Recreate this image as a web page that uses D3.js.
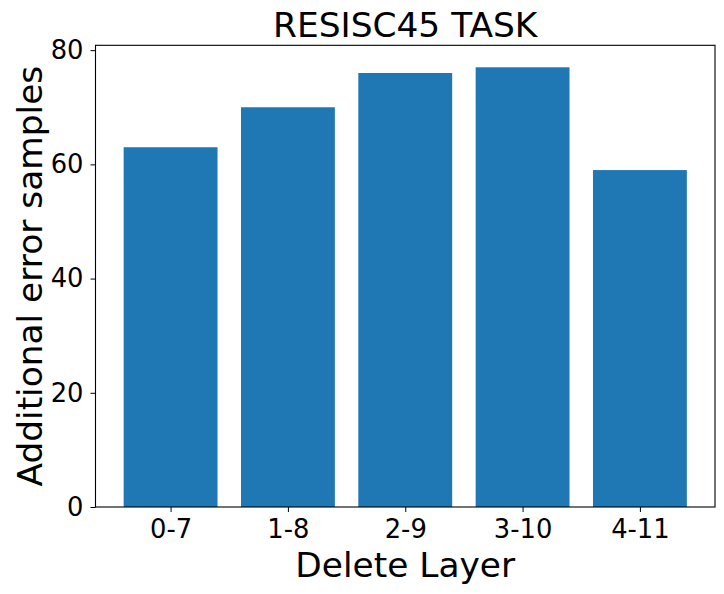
<html>
<head>
<script src="https://d3js.org/d3.v7.min.js"></script>
<style>
body{margin:0;background:#fff}
text{font-family:"DejaVu Sans",sans-serif}
</style>
</head>
<body>
<script>
var capas=["0-7","1-8","2-9","3-10","4-11"]
var errores=[63,70,76,77,59]
var ticksY=[0,20,40,60,80]

var izq=95.5, der=715, arriba=45.3, abajo=507

var svg=d3.select("body").append("svg")
  .attr("width",724)
  .attr("height",594)

// escala x como matplotlib: posiciones 0..4 con margen
var escalaX=d3.scaleLinear()
  .domain([-0.64,4.64])
  .range([izq,der])

var escalaY=d3.scaleLinear()
  .domain([0,d3.max(errores)*1.05])
  .range([abajo,arriba])

var anchoBarra=escalaX(0.8)-escalaX(0)

svg.selectAll("rect.barra")
  .data(errores)
  .enter()
  .append("rect")
  .attr("class","barra")
  .attr("x",(d,i)=>escalaX(i)-anchoBarra/2)
  .attr("y",d=>escalaY(d))
  .attr("width",anchoBarra)
  .attr("height",d=>abajo-escalaY(d))
  .attr("fill","#1f77b4")

// ejes
var ejeX=svg.append("g")
  .attr("transform","translate(0,"+abajo+")")
  .call(d3.axisBottom(escalaX).tickValues(d3.range(capas.length)).tickFormat(i=>capas[i]).tickSize(5).tickPadding(8))
ejeX.select(".domain").remove()
ejeX.selectAll("text").attr("font-size",25.8).attr("fill","#000").attr("font-family","DejaVu Sans")
ejeX.selectAll("line").attr("stroke","#000").attr("stroke-width",1)

var ejeY=svg.append("g")
  .attr("transform","translate("+izq+",0)")
  .call(d3.axisLeft(escalaY).tickValues(ticksY).tickSize(5).tickPadding(7))
ejeY.select(".domain").remove()
ejeY.selectAll("text").attr("font-size",25.8).attr("fill","#000").attr("font-family","DejaVu Sans")
ejeY.selectAll("line").attr("stroke","#000").attr("stroke-width",1)

// marco
svg.append("rect")
  .attr("x",izq).attr("y",arriba)
  .attr("width",der-izq).attr("height",abajo-arriba)
  .attr("fill","none").attr("stroke","#000").attr("stroke-width",1.1)

svg.append("text")
  .attr("x",(izq+der)/2).attr("y",37)
  .attr("text-anchor","middle")
  .attr("font-size",34.4)
  .text("RESISC45 TASK")

svg.append("text")
  .attr("x",(izq+der)/2).attr("y",577)
  .attr("text-anchor","middle")
  .attr("font-size",34.4)
  .text("Delete Layer")

svg.append("text")
  .attr("transform","translate(42,"+((arriba+abajo)/2)+") rotate(-90)")
  .attr("text-anchor","middle")
  .attr("font-size",34.4)
  .text("Additional error samples")
</script>
</body>
</html>
